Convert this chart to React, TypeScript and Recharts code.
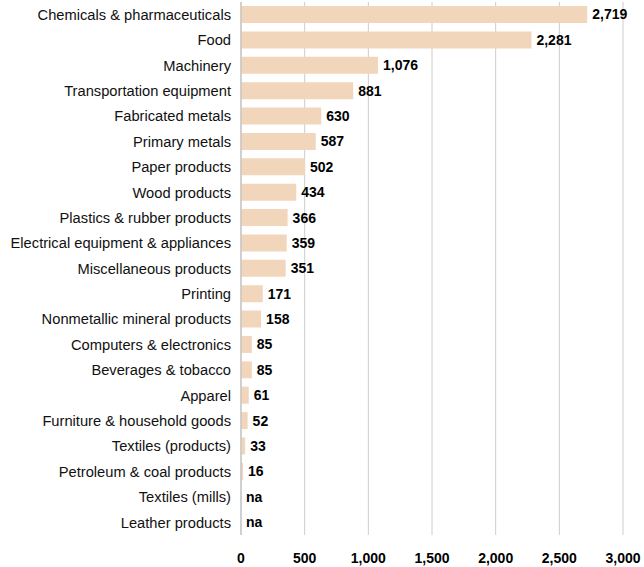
import { Bar, BarChart, CartesianGrid, LabelList, XAxis, YAxis } from "recharts";

const categories = [
  "Chemicals & pharmaceuticals",
  "Food",
  "Machinery",
  "Transportation equipment",
  "Fabricated metals",
  "Primary metals",
  "Paper products",
  "Wood products",
  "Plastics & rubber products",
  "Electrical equipment & appliances",
  "Miscellaneous products",
  "Printing",
  "Nonmetallic mineral products",
  "Computers & electronics",
  "Beverages & tobacco",
  "Apparel",
  "Furniture & household goods",
  "Textiles (products)",
  "Petroleum & coal products",
  "Textiles (mills)",
  "Leather products",
];

// null = not available ("na")
const values: (number | null)[] = [
  2719, 2281, 1076, 881, 630, 587, 502, 434, 366, 359, 351, 171, 158, 85, 85, 61, 52, 33, 16, null, null,
];

const xTicks = [0, 500, 1000, 1500, 2000, 2500, 3000];

const data = categories.map((name, i) => ({
  name,
  value: values[i] ?? 0,
  label: values[i] == null ? "na" : values[i]!.toLocaleString("en-US"),
}));

const font = "'Liberation Sans', Arial, sans-serif";

export default function App() {
  return (
    <div style={{ position: "absolute", top: 0, left: 0, width: 644, height: 567, background: "#fff" }}>
      <BarChart
        width={644}
        height={567}
        data={data}
        layout="vertical"
        margin={{ top: 2, right: 21, bottom: 0, left: 5 }}
        barCategoryGap={4}
      >
        <CartesianGrid horizontal={false} stroke="#cccccc" />
        <XAxis
          type="number"
          domain={[0, 3000]}
          ticks={xTicks}
          axisLine={false}
          tickLine={false}
          height={32}
          tickSize={0}
          tickMargin={18}
          tickFormatter={(v: number) => v.toLocaleString("en-US")}
          tick={{ fill: "#000", fontSize: 14, fontWeight: "bold", fontFamily: font }}
          interval={0}
        />
        <YAxis
          type="category"
          dataKey="name"
          width={236}
          axisLine={{ stroke: "#bbbbbb" }}
          tickLine={false}
          tickSize={0}
          tickMargin={10}
          interval={0}
          tick={{ fill: "#111", fontSize: 14.7, fontFamily: font }}
        />
        <Bar
          dataKey="value"
          fill="#f2d6bb"
          barSize={17}
          minPointSize={(v: number) => (v === 0 ? 0.01 : 0)}
          isAnimationActive={false}
        >
          <LabelList
            dataKey="label"
            position="right"
            offset={5}
            style={{ fill: "#000", fontSize: 14, fontWeight: "bold", fontFamily: font }}
          />
        </Bar>
      </BarChart>
    </div>
  );
}
